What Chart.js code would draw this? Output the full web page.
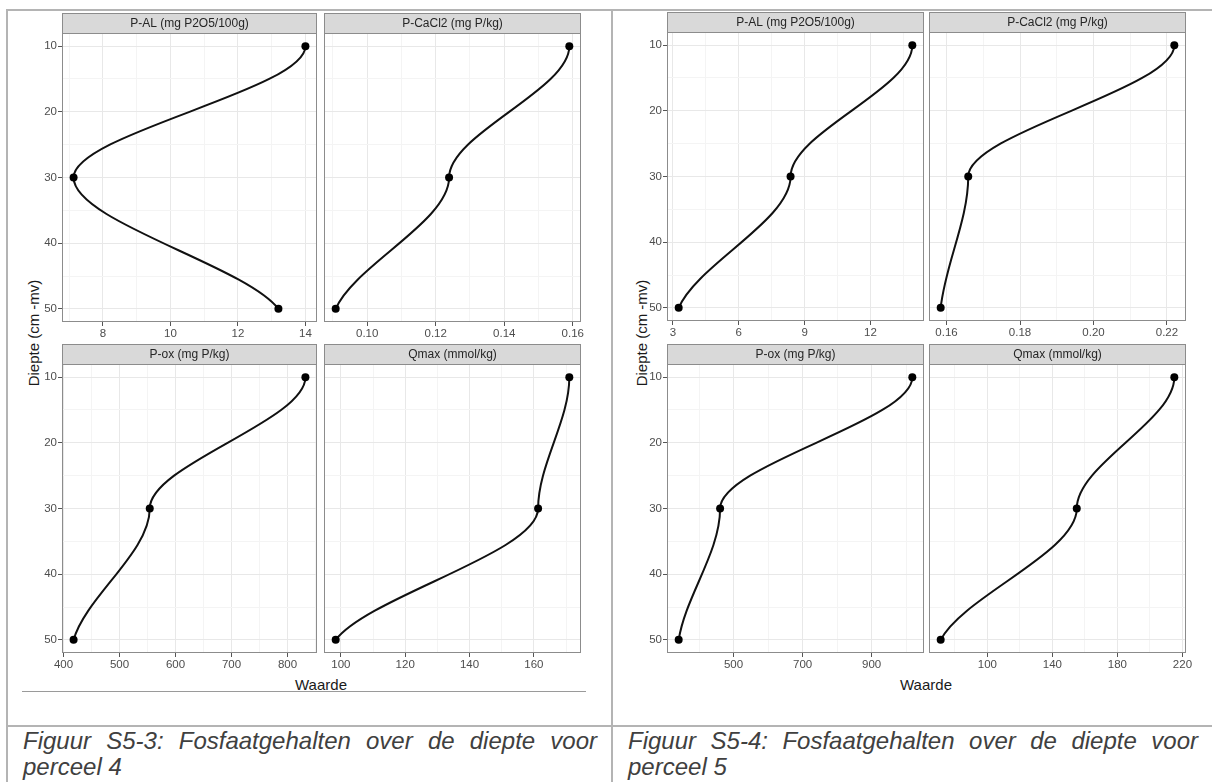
<!DOCTYPE html>
<html>
<head>
<meta charset="utf-8">
<script src="https://cdn.jsdelivr.net/npm/chart.js@4.4.1/dist/chart.umd.min.js"></script>
<style>
  html, body { margin: 0; padding: 0; background: #fff; }
  body { width: 1212px; height: 782px; position: relative; overflow: hidden; font-family: "Liberation Sans", Arial, sans-serif; }
  canvas { position: absolute; }
  .rule { position: absolute; background: #b4b4b4; }
  .ytitle { position: absolute; transform: translate(-50%, -50%) rotate(-90deg); white-space: nowrap; font-size: 15px; color: #1a1a1a; }
  .xtitle { position: absolute; transform: translate(-50%, -50%); white-space: nowrap; font-size: 15px; color: #1a1a1a; }
  .caption { position: absolute; top: 728px; font-size: 24px; font-style: italic; line-height: 26px; color: #404040; text-align: justify; }
</style>
</head>
<body>

<div class="rule" style="left:6px; top:9px; width:1206px; height:2px;"></div>
<div class="rule" style="left:6px; top:9px; width:2px; height:773px;"></div>
<div class="rule" style="left:611px; top:9px; width:2px; height:773px;"></div>
<div class="rule" style="left:6px; top:725px; width:1206px; height:2px;"></div>
<div class="rule" style="left:22px; top:691px; width:564px; height:1px; background:#9a9a9a;"></div>

<div class="ytitle" style="left:33px; top:333px;">Diepte (cm -mv)</div>
<div class="ytitle" style="left:641px; top:333px;">Diepte (cm -mv)</div>
<div class="xtitle" style="left:321px; top:684px;">Waarde</div>
<div class="xtitle" style="left:926px; top:684px;">Waarde</div>

<div class="caption" style="left:23px; width:574px;">Figuur S5-3: Fosfaatgehalten over de diepte voor perceel 4</div>
<div class="caption" style="left:628px; width:570px;">Figuur S5-4: Fosfaatgehalten over de diepte voor perceel 5</div>

<script>
// depths of the samples (cm -mv)
var depths = [10, 30, 50];
var depthTicks = [10, 20, 30, 40, 50];
var panelTitles = ["P-AL (mg P2O5/100g)", "P-CaCl2 (mg P/kg)", "P-ox (mg P/kg)", "Qmax (mmol/kg)"];

// perceel 4
var p4PAL = [14.0, 7.13, 13.2];
var p4PCaCl2 = [0.159, 0.1239, 0.0908];
var p4POx = [832, 554, 418];
var p4Qmax = [171, 161.3, 98.4];
var p4Ticks = [[8, 10, 12, 14], [0.10, 0.12, 0.14, 0.16], [400, 500, 600, 700, 800], [100, 120, 140, 160]];

// perceel 5
var p5PAL = [13.91, 8.36, 3.26];
var p5PCaCl2 = [0.222, 0.1659, 0.1584];
var p5POx = [1018, 461, 341];
var p5Qmax = [215, 155, 71.3];
var p5Ticks = [[3, 6, 9, 12], [0.16, 0.18, 0.20, 0.22], [500, 700, 900], [100, 140, 180, 220]];

var STRIP_H = 20, AXIS_H = 24, YAXIS_W = 40, SIDE = 20;

Chart.defaults.font.family = '"Liberation Sans", Arial, sans-serif';

var stripPlugin = {
    id: 'strip',
    afterDraw: function (chart, args, opts) {
        var a = chart.chartArea, ctx = chart.ctx;
        ctx.save();
        ctx.fillStyle = '#d9d9d9';
        ctx.fillRect(a.left, a.top - STRIP_H, a.right - a.left, STRIP_H);
        ctx.strokeStyle = '#8c8c8c';
        ctx.lineWidth = 1;
        ctx.strokeRect(a.left + 0.5, a.top - STRIP_H + 0.5, a.right - a.left - 1, STRIP_H);
        ctx.strokeRect(a.left + 0.5, a.top + 0.5, a.right - a.left - 1, a.bottom - a.top - 1);
        ctx.fillStyle = '#262626';
        ctx.font = '12px "Liberation Sans", Arial, sans-serif';
        ctx.textAlign = 'center';
        ctx.textBaseline = 'middle';
        ctx.fillText(opts.title, (a.left + a.right) / 2, a.top - STRIP_H / 2 + 1);
        ctx.restore();
    }
};

// smooth depth profile: vertical tangent at the upper points, softer at the deepest one
var curvePlugin = {
    id: 'depthCurve',
    beforeDatasetDraw: function (chart, args) {
        var pts = args.meta.data, n = pts.length;
        if (n < 2) return;
        var lastSlope = (pts[n - 1].x - pts[n - 2].x) / (pts[n - 1].y - pts[n - 2].y);
        pts.forEach(function (p, i) {
            var m = i === n - 1 ? lastSlope / 2 : 0;
            if (i > 0) {
                var h = p.y - pts[i - 1].y;
                p.cp1x = p.x - m * h / 3;
                p.cp1y = p.y - h / 3;
            }
            if (i < n - 1) {
                var h2 = pts[i + 1].y - p.y;
                p.cp2x = p.x + m * h2 / 3;
                p.cp2y = p.y + h2 / 3;
            }
        });
        args.meta.dataset._pointsUpdated = true;
    }
};

// majors plus ggplot-like minor breaks halfway between them
function tickSet(majors, min, max) {
    var step = majors.length > 1 ? majors[1] - majors[0] : 1;
    var list = majors.map(function (v) { return { value: v, major: true }; });
    for (var k = -1; k < majors.length; k++) {
        var m = parseFloat((majors[0] + step * k + step / 2).toFixed(10));
        list.push({ value: m, major: false });
    }
    return list.filter(function (t) { return t.value >= min - 1e-9 && t.value <= max + 1e-9; })
        .sort(function (a, b) { return a.value - b.value; });
}

function gridColor(ctx) {
    return ctx.tick && ctx.tick.major ? '#e8e8e8' : '#f4f4f4';
}
function tickMarkColor(ctx) {
    return ctx.tick && ctx.tick.major ? '#555555' : 'rgba(0,0,0,0)';
}

function makePanel(box, leftCol, title, values, majors) {
    var lo = Math.min.apply(null, values), hi = Math.max.apply(null, values);
    var xMin = lo - (hi - lo) * 0.05, xMax = hi + (hi - lo) * 0.05;
    var step = majors[1] - majors[0];
    var dec = Math.max(0, -Math.floor(Math.log10(step)));
    var padL = leftCol ? YAXIS_W : SIDE;

    var canvas = document.createElement('canvas');
    canvas.width = padL + (box.r - box.l) + SIDE;
    canvas.height = STRIP_H + (box.b - box.t) + AXIS_H;
    canvas.style.left = (box.l - padL) + 'px';
    canvas.style.top = (box.t - STRIP_H) + 'px';
    document.body.appendChild(canvas);

    new Chart(canvas, {
        type: 'line',
        data: {
            datasets: [{
                data: depths.map(function (d, i) { return { x: values[i], y: d }; }),
                borderColor: '#111111',
                borderWidth: 2,
                pointRadius: 4,
                pointBackgroundColor: '#000000',
                pointBorderWidth: 0,
                cubicInterpolationMode: 'monotone',
                fill: false
            }]
        },
        options: {
            indexAxis: 'y',
            responsive: false,
            animation: false,
            layout: { padding: { left: leftCol ? 0 : SIDE, right: SIDE, top: STRIP_H, bottom: 0 } },
            plugins: {
                legend: { display: false },
                tooltip: { enabled: false },
                strip: { title: title }
            },
            scales: {
                x: {
                    type: 'linear',
                    position: 'bottom',
                    min: xMin,
                    max: xMax,
                    afterBuildTicks: function (s) { s.ticks = tickSet(majors, xMin, xMax); },
                    afterFit: function (s) { s.height = AXIS_H; },
                    border: { display: false },
                    grid: { color: gridColor, tickColor: tickMarkColor, tickLength: 4, lineWidth: 1 },
                    ticks: {
                        autoSkip: false,
                        maxRotation: 0,
                        padding: 1,
                        color: '#4d4d4d',
                        font: { size: 11.5 },
                        callback: function (v, i, ticks) { return ticks[i].major ? v.toFixed(dec) : ''; }
                    }
                },
                y: {
                    type: 'linear',
                    position: 'left',
                    reverse: true,
                    min: 8,
                    max: 52,
                    afterBuildTicks: function (s) { s.ticks = tickSet(depthTicks, 8, 52); },
                    afterFit: function (s) { s.width = leftCol ? YAXIS_W : 0; },
                    border: { display: false },
                    grid: { color: gridColor, tickColor: tickMarkColor, tickLength: 4, lineWidth: 1, drawTicks: leftCol },
                    ticks: {
                        display: leftCol,
                        autoSkip: false,
                        padding: 1,
                        color: '#4d4d4d',
                        font: { size: 11.5 },
                        callback: function (v, i, ticks) { return ticks[i].major ? String(v) : ''; }
                    }
                }
            }
        },
        plugins: [stripPlugin, curvePlugin]
    });
}

function makeFigure(cols, rows, series, ticks) {
    for (var i = 0; i < 4; i++) {
        var c = cols[i % 2], r = rows[Math.floor(i / 2)];
        makePanel({ l: c[0], r: c[1], t: r[0], b: r[1] }, i % 2 === 0, panelTitles[i], series[i], ticks[i]);
    }
}

makeFigure([[62, 317], [324, 581]], [[33, 322], [364, 653]],
    [p4PAL, p4PCaCl2, p4POx, p4Qmax], p4Ticks);
makeFigure([[667, 924], [929, 1186]], [[32, 321], [364, 653]],
    [p5PAL, p5PCaCl2, p5POx, p5Qmax], p5Ticks);
</script>
</body>
</html>
